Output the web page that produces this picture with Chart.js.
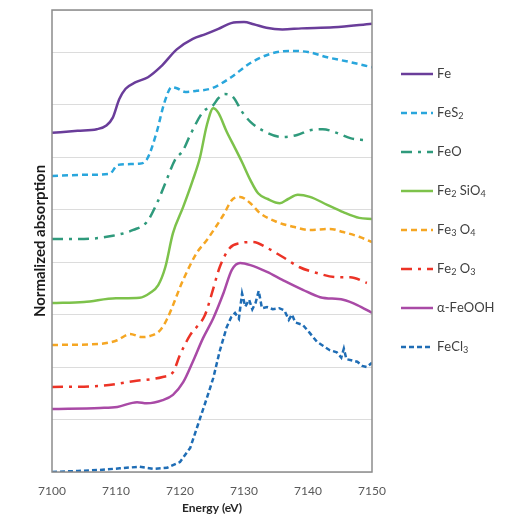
<!DOCTYPE html>
<html>
<head>
<meta charset="utf-8">
<script src="https://cdn.jsdelivr.net/npm/chart.js@4.4.0/dist/chart.umd.min.js"></script>
<style>
  html, body { margin: 0; padding: 0; background: #fff; }
  #wrap { width: 532px; height: 517px; }
</style>
</head>
<body>
<div id="wrap"><canvas id="xanes"></canvas></div>
<script>
// Fe K-edge XANES reference spectra, stacked with vertical offsets
const labels = ['Fe', 'FeS2', 'FeO', 'Fe2 SiO4', 'Fe3 O4', 'Fe2 O3', 'α-FeOOH', 'FeCl3'];
const colors = ['#6a3d9a', '#29a6dc', '#2f9a7c', '#7dc24b', '#f5a623', '#ec3326', '#a94aa6', '#1f6db5'];
const dashes = [[], [6, 4], [11, 6, 3, 6], [], [6, 4], [11, 6, 3, 6], [], [5, 3]];
const xTicks = [7100, 7110, 7120, 7130, 7140, 7150];

const feE   = [7100, 7104, 7107, 7108.5, 7109.5, 7110.5, 7111.5, 7113, 7115, 7117, 7119.5, 7122, 7124, 7126, 7128, 7130, 7131.5, 7133.5, 7136, 7139, 7144, 7150];
const feMu  = [6.46, 6.50, 6.53, 6.60, 6.75, 7.10, 7.30, 7.42, 7.52, 7.72, 8.05, 8.25, 8.34, 8.44, 8.55, 8.57, 8.53, 8.46, 8.43, 8.45, 8.47, 8.54];

const fes2E  = [7100, 7105, 7109, 7110.3, 7113.5, 7114.8, 7116.3, 7117.6, 7118.7, 7119.5, 7120.8, 7122.6, 7125, 7128, 7131, 7134, 7137, 7140, 7143, 7146.5, 7150];
const fes2Mu = [5.64, 5.66, 5.68, 5.85, 5.87, 5.95, 6.45, 7.05, 7.33, 7.31, 7.24, 7.26, 7.31, 7.52, 7.79, 7.96, 8.02, 8.00, 7.90, 7.81, 7.71];

const feoE  = [7100, 7105, 7109.5, 7112.7, 7114.8, 7116.4, 7117.7, 7119.2, 7120.5, 7121.6, 7123.6, 7125.2, 7126, 7127, 7128.3, 7129.7, 7131, 7133, 7136, 7138.3, 7140.3, 7142.3, 7144.5, 7146.6, 7149];
const feoMu = [4.44, 4.44, 4.50, 4.61, 4.76, 5.12, 5.50, 5.94, 6.13, 6.42, 6.86, 6.99, 7.12, 7.20, 7.14, 6.86, 6.67, 6.50, 6.38, 6.42, 6.51, 6.53, 6.46, 6.36, 6.32];

const fayE  = [7100, 7105, 7110, 7113.7, 7115.3, 7116.6, 7117.7, 7118.9, 7120.5, 7122, 7123.1, 7124.2, 7125.2, 7126, 7127.3, 7128.6, 7129.7, 7131, 7132.2, 7133.7, 7135.6, 7136.9, 7138.4, 7140.3, 7143, 7145.5, 7148, 7150];
const fayMu = [3.22, 3.24, 3.31, 3.32, 3.41, 3.56, 3.90, 4.55, 5.05, 5.56, 5.98, 6.61, 6.93, 6.84, 6.48, 6.17, 5.90, 5.56, 5.31, 5.20, 5.12, 5.20, 5.28, 5.24, 5.09, 4.95, 4.84, 4.82];

const magE  = [7100, 7107.5, 7110.2, 7112.2, 7114, 7115.3, 7116.9, 7118, 7120.5, 7122.6, 7124.2, 7126.8, 7128.1, 7129.4, 7131, 7132.5, 7135.2, 7137.7, 7140.3, 7143.4, 7145.5, 7148, 7150];
const magMu = [2.42, 2.44, 2.51, 2.63, 2.57, 2.59, 2.70, 2.92, 3.66, 4.17, 4.42, 4.90, 5.18, 5.24, 5.12, 4.93, 4.76, 4.67, 4.61, 4.63, 4.57, 4.48, 4.38];

const hemE  = [7100, 7107.5, 7112.7, 7117.3, 7118.9, 7120, 7121.6, 7123.9, 7125, 7126.2, 7127.8, 7129.4, 7131.4, 7133.6, 7136, 7138.7, 7141.4, 7144.5, 7146.6, 7149.2];
const hemMu = [1.62, 1.64, 1.73, 1.81, 1.90, 2.23, 2.61, 2.99, 3.41, 3.90, 4.27, 4.36, 4.38, 4.27, 4.10, 3.90, 3.79, 3.71, 3.71, 3.60];

const goeE  = [7100, 7107.5, 7110.2, 7113.3, 7114.8, 7117.3, 7118.9, 7120.5, 7122, 7123.6, 7125.2, 7126.8, 7128.1, 7129.4, 7131, 7133.6, 7136, 7139.2, 7141.9, 7145.5, 7147.7, 7150];
const goeMu = [1.20, 1.22, 1.24, 1.33, 1.31, 1.37, 1.47, 1.71, 2.10, 2.55, 2.93, 3.41, 3.85, 3.98, 3.94, 3.81, 3.66, 3.47, 3.33, 3.28, 3.18, 3.03];

const fecl3E  = [7100, 7104, 7107.5, 7110.6, 7113.7, 7115.8, 7118, 7120, 7121.6, 7122.8, 7124.2, 7125.2, 7126.2, 7127.3, 7128, 7128.6, 7129.2, 7129.7, 7130.2, 7130.8, 7131.3, 7131.8, 7132.3, 7132.8, 7133.6, 7134.5, 7135.5, 7136.3, 7137, 7137.5, 7138, 7139.2, 7140.2, 7141.4, 7142.4, 7143.4, 7144.5, 7145.2, 7145.6, 7146, 7147, 7147.7, 7148.5, 7149.2, 7150];
const fecl3Mu = [0.00, 0.02, 0.04, 0.07, 0.10, 0.06, 0.08, 0.19, 0.46, 0.90, 1.41, 1.79, 2.30, 2.76, 2.95, 3.03, 2.92, 3.40, 3.15, 3.28, 3.10, 3.22, 3.45, 3.12, 3.14, 3.10, 3.12, 3.08, 2.90, 3.00, 2.85, 2.80, 2.66, 2.48, 2.40, 2.32, 2.28, 2.18, 2.35, 2.15, 2.12, 2.10, 2.02, 2.00, 2.08];

const spectra = [[feE, feMu], [fes2E, fes2Mu], [feoE, feoMu], [fayE, fayMu], [magE, magMu], [hemE, hemMu], [goeE, goeMu], [fecl3E, fecl3Mu]];

const datasets = spectra.map(([e, mu], i) => ({
    label: labels[i],
    data: e.map((x, k) => ({ x: x, y: mu[k] })),
    borderColor: colors[i],
    backgroundColor: colors[i],
    borderDash: dashes[i],
    borderWidth: 2.5,
    pointRadius: 0,
    cubicInterpolationMode: i === 7 ? 'default' : 'monotone',
    tension: i === 7 ? 0 : 0.4,
    fill: false
}));

// draws text where digits are set as subscripts
function drawFormula(ctx, text, x, y, size) {
    let cx = x;
    for (const ch of text) {
        const sub = /[0-9]/.test(ch);
        ctx.font = (sub ? size * 0.7 : size) + 'px Lato, "DejaVu Sans", sans-serif';
        ctx.fillText(ch, cx, sub ? y + size * 0.25 : y);
        cx += ctx.measureText(ch).width;
    }
}

// frame around the plot plus the hand-placed legend on the right
const framePlugin = {
    id: 'frameAndLegend',
    afterDraw(chart) {
        const { ctx, chartArea } = chart;
        ctx.save();
        ctx.strokeStyle = '#8c8c8c';
        ctx.lineWidth = 1.5;
        ctx.strokeRect(chartArea.left, chartArea.top, chartArea.right - chartArea.left, chartArea.bottom - chartArea.top);

        const legX = chartArea.right + 29;
        chart.data.datasets.forEach((ds, i) => {
            const y = 74 + i * 39;
            ctx.strokeStyle = ds.borderColor;
            ctx.lineWidth = 2.5;
            ctx.setLineDash(ds.borderDash);
            ctx.beginPath();
            ctx.moveTo(legX, y);
            ctx.lineTo(legX + 32, y);
            ctx.stroke();
            ctx.setLineDash([]);
            ctx.fillStyle = '#404040';
            ctx.textBaseline = 'middle';
            drawFormula(ctx, ds.label, legX + 36, y, 13);
        });
        ctx.restore();
    }
};

const ctx = document.getElementById('xanes').getContext('2d');
new Chart(ctx, {
    type: 'line',
    data: { datasets: datasets },
    options: {
        responsive: true,
        maintainAspectRatio: false,
        animation: false,
        layout: { padding: { top: 10, right: 160, left: 0, bottom: 0 } },
        plugins: {
            legend: { display: false },
            tooltip: { enabled: false }
        },
        scales: {
            x: {
                type: 'linear',
                min: 7100,
                max: 7150,
                afterBuildTicks: s => { s.ticks = xTicks.map(v => ({ value: v })); },
                afterFit: s => { s.height = 45; },
                grid: { display: false, drawTicks: false },
                border: { display: false },
                ticks: {
                    color: '#595959',
                    padding: 12,
                    font: { family: 'Lato', size: 12 },
                    callback: v => String(v)
                },
                title: {
                    display: true,
                    text: 'Energy (eV)',
                    color: '#262626',
                    font: { family: 'Lato', size: 12, weight: 'bold' },
                    padding: { top: 0, bottom: 2 }
                }
            },
            y: {
                min: 0,
                max: 8.8,
                afterFit: s => { s.width = 52; },
                grid: { color: '#dcdcdc', lineWidth: 1, drawTicks: false },
                border: { display: false },
                ticks: { display: false, stepSize: 1 },
                title: {
                    display: true,
                    text: 'Normalized absorption',
                    color: '#1a1a1a',
                    font: { family: 'Lato', size: 15, weight: 'bold' },
                    padding: { top: 31, bottom: 0 }
                }
            }
        }
    },
    plugins: [framePlugin]
});
</script>
</body>
</html>
